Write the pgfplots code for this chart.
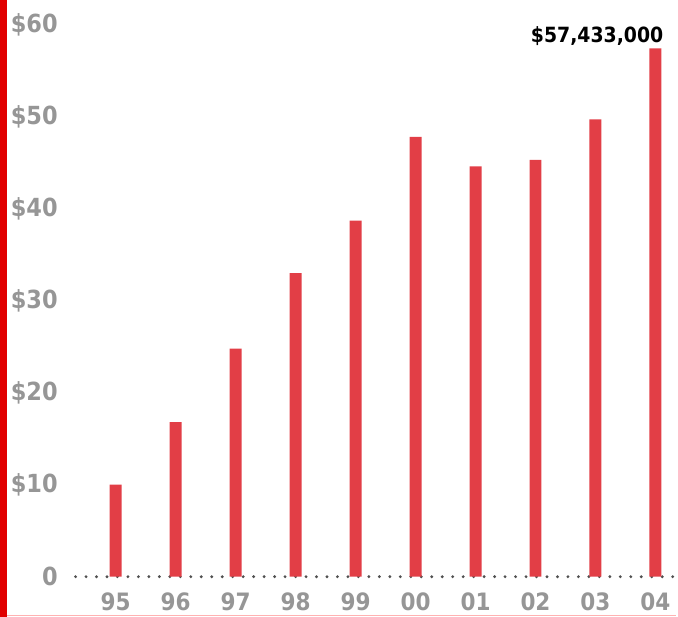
\documentclass[border=0pt]{standalone}
\usepackage{pgfplots}
\pgfplotsset{compat=1.18}
\usepackage{fontspec}
\setmainfont{DejaVu Sans Condensed}
\definecolor{barred}{RGB}{226,62,70}
\definecolor{labgray}{RGB}{150,150,150}
\definecolor{dotgray}{RGB}{80,80,80}
\definecolor{edgered}{RGB}{225,0,0}
\begin{document}
\begin{tikzpicture}
\begin{axis}[
  scale only axis,
  width=678pt, height=618pt,
  xmin=-1.930, xmax=9.351,
  ymin=-4.34, ymax=62.69,
  axis line style={draw=none},
  tick style={draw=none},
  clip=false,
  ytick={0,10,20,30,40,50,60},
  yticklabels={0,\$10,\$20,\$30,\$40,\$50,\$60},
  yticklabel style={anchor=east, inner sep=0pt, xshift=58pt, font=\fontsize{25}{25}\selectfont\bfseries, text=labgray},
  xtick={0,...,9},
  xticklabels={95,96,97,98,99,00,01,02,03,04},
  xticklabel style={anchor=center, inner sep=0pt, yshift=15pt, font=\fontsize{24}{24}\selectfont\bfseries, text=labgray},
]
\fill[edgered] (rel axis cs:0,0) rectangle (rel axis cs:0.0105,1);
\draw[red!30, line width=1pt] (rel axis cs:0.0105,0.001) -- (rel axis cs:1,0.001);
\addplot[dotgray, line width=3.2pt, line cap=round, dash pattern=on 0pt off 10.5pt, forget plot] coordinates {(-0.67,0) (9.35,0)};
\addplot[ybar, bar width=12pt, fill=barred, draw=none, bar shift=0pt] coordinates {
(0,10.0) (1,16.8) (2,24.8) (3,33.0) (4,38.7) (5,47.8) (6,44.6) (7,45.3) (8,49.7) (9,57.433)};
\node[anchor=base east, inner sep=0pt, font=\fontsize{21}{21}\selectfont\bfseries] at (axis cs:9.135,58.1) {\$57,433,000};
\end{axis}
\end{tikzpicture}
\end{document}
